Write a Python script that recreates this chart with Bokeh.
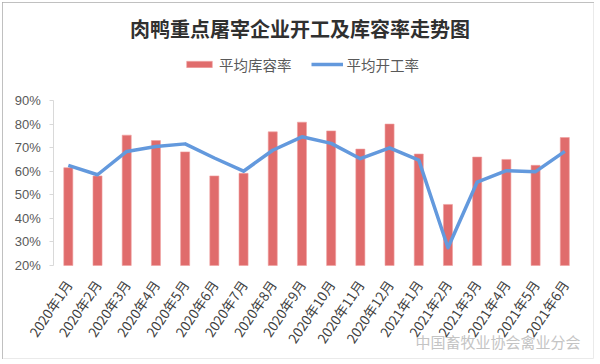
import math
from bokeh.plotting import figure
from bokeh.models import (Range1d, FixedTicker, NumeralTickFormatter,
                          Legend, LegendItem, Label, ColumnDataSource, InlineStyleSheet)
from bokeh.embed import file_html
from bokeh.resources import INLINE

title_text = "肉鸭重点屠宰企业开工及库容率走势图"
months = ["2020年1月", "2020年2月", "2020年3月", "2020年4月", "2020年5月", "2020年6月",
          "2020年7月", "2020年8月", "2020年9月", "2020年10月", "2020年11月", "2020年12月",
          "2021年1月", "2021年2月", "2021年3月", "2021年4月", "2021年5月", "2021年6月"]
storage_rate = [61.5, 58.0, 75.3, 73.0, 68.2, 58.0, 59.1, 76.7, 80.8,
                77.1, 69.4, 80.0, 67.3, 45.9, 66.0, 65.0, 62.5, 74.3]
operating_rate = [62.5, 58.5, 68.4, 70.5, 71.6, 65.6, 60.0, 68.9, 74.6,
                  71.8, 65.3, 69.9, 64.7, 27.5, 55.4, 60.2, 59.8, 68.4]
y_ticks = [0.2, 0.3, 0.4, 0.5, 0.6, 0.7, 0.8, 0.9]
series_names = ["平均库容率", "平均开工率"]
watermark = "中国畜牧业协会禽业分会"

n = len(months)
idx = list(range(n))
src = ColumnDataSource(dict(
    i=idx,
    s=[v / 100 for v in storage_rate],
    o=[v / 100 for v in operating_rate],
))

# layout (pixels): plot area 165px tall with 97px header / 93px footer;
# each category slot is 29.2px wide, with 50.2px to the left and 14.1px to the right
plot_px, header_px, footer_px = 165, 97, 93
cat_px, left_px, right_px = 29.2, 50.2, 14.1
y_lo, y_hi = y_ticks[0], y_ticks[-1]
ypx = (y_hi - y_lo) / plot_px
y_range = Range1d(y_lo - footer_px * ypx, y_hi + header_px * ypx)
x_lo, x_hi = -0.5, n - 0.5
x_range = Range1d(x_lo - left_px / cat_px, x_hi + right_px / cat_px)

p = figure(x_range=x_range, y_range=y_range,
           width=592, height=357, output_backend="svg", toolbar_location=None,
           min_border_left=1, min_border_right=1, min_border_top=1, min_border_bottom=1)
p.styles = {"margin-left": "2px", "margin-top": "2px"}
p.stylesheets = [InlineStyleSheet(css=":host { outline: 1px solid #ABABAB; outline-offset: -1px; }")]
p.outline_line_color = None
p.background_fill_color = "white"
p.border_fill_color = "white"
p.xgrid.grid_line_color = None
p.ygrid.grid_line_color = None

bars = p.vbar(x="i", top="s", bottom=y_lo, width=0.31, source=src,
              fill_color="#E06C6C", line_color="#F0A0A0", line_width=0.6)
line = p.line(x="i", y="o", source=src, line_color="#6399DD", line_width=3.5,
              line_join="round")

p.yaxis.fixed_location = x_lo
p.yaxis.bounds = (y_lo, y_hi)
p.yaxis.ticker = FixedTicker(ticks=y_ticks)
p.yaxis.formatter = NumeralTickFormatter(format="0%")
p.yaxis.axis_line_color = "#D9D9D9"
p.yaxis.major_tick_line_color = "#D9D9D9"
p.yaxis.major_tick_in = 0
p.yaxis.major_tick_out = 4
p.yaxis.minor_tick_line_color = None
p.yaxis.major_label_text_font = "Liberation Sans"
p.yaxis.major_label_text_font_size = "13px"
p.yaxis.major_label_text_color = "#595959"
p.yaxis.major_label_standoff = 9

p.xaxis.fixed_location = y_lo
p.xaxis.bounds = (x_lo, x_hi)
p.xaxis.ticker = FixedTicker(ticks=idx)
p.xaxis.major_label_overrides = {i: m for i, m in zip(idx, months)}
p.xaxis.axis_line_color = None
p.xaxis.major_tick_line_color = None
p.xaxis.minor_tick_line_color = None
p.xaxis.major_label_orientation = math.radians(56)
p.xaxis.major_label_text_font = "Noto Sans CJK SC"
p.xaxis.major_label_text_font_size = "13.5px"
p.xaxis.major_label_text_color = "#404040"
p.xaxis.major_label_standoff = 10

p.add_layout(Label(x=296.5, y=330, x_units="screen", y_units="screen", text=title_text,
                   text_align="center", text_baseline="middle",
                   text_font="Noto Sans CJK SC", text_font_size="20px",
                   text_font_style="bold", text_color="#303030"))

legend = Legend(items=[LegendItem(label=series_names[0], renderers=[bars]),
                       LegendItem(label=series_names[1], renderers=[line])],
                orientation="horizontal", location=(180, 283.5),
                glyph_width=32, glyph_height=8, label_height=15,
                label_standoff=4, spacing=19, padding=0, margin=0,
                border_line_color=None, background_fill_alpha=0,
                label_text_font="Noto Sans CJK SC", label_text_font_size="14.5px",
                label_text_color="#595959")
p.add_layout(legend, "center")

p.add_layout(Label(x=412, y=17, x_units="screen", y_units="screen", text=watermark,
                   text_align="left", text_baseline="middle",
                   text_font="Noto Sans CJK SC", text_font_size="15px",
                   text_color="#C4C4C4"))

open("out.html", "w").write(file_html(p, INLINE))
